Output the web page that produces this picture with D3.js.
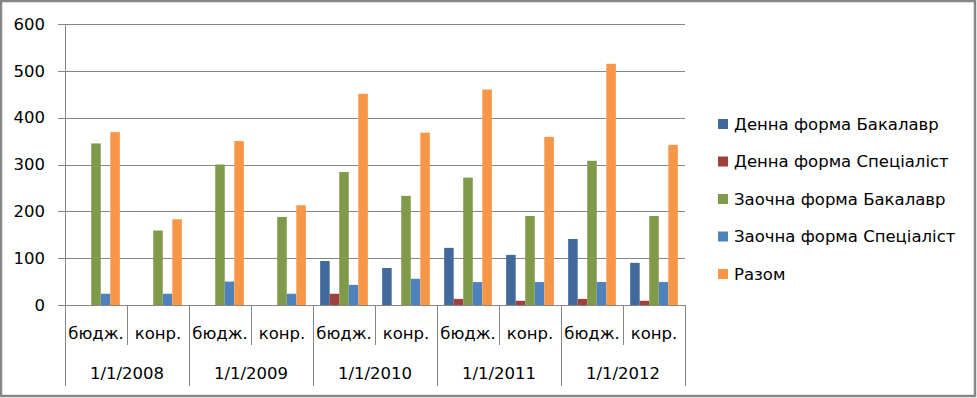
<!DOCTYPE html>
<html>
<head>
<meta charset="utf-8">
<script src="https://cdn.jsdelivr.net/npm/d3@7"></script>
<style>
  body { margin: 0; background: #fff; }
  svg text { font-family: "DejaVu Sans", sans-serif; fill: #000; }
</style>
</head>
<body>
<div id="chart"></div>
<script>
// data
var years = ["1/1/2008", "1/1/2009", "1/1/2010", "1/1/2011", "1/1/2012"];
var kinds = ["бюдж.", "конр."];
var seriesNames = ["Денна форма Бакалавр", "Денна форма Спеціаліст", "Заочна форма Бакалавр", "Заочна форма Спеціаліст", "Разом"];
var seriesColors = ["#41699c", "#a0403d", "#7f9b49", "#4f81bd", "#f79646"];
// one value per category (year x kind), in order
var denBak  = [0, 0, 0, 0, 94, 79, 122, 107, 141, 90];
var denSpec = [0, 0, 0, 0, 24, 0, 13, 9, 13, 9];
var zaoBak  = [345, 159, 300, 188, 284, 233, 272, 190, 308, 190];
var zaoSpec = [24, 24, 50, 24, 43, 56, 49, 49, 49, 49];
var razom   = [369, 183, 350, 213, 451, 368, 460, 359, 515, 342];
var yTicks = [0, 100, 200, 300, 400, 500, 600];

var series = [denBak, denSpec, zaoBak, zaoSpec, razom];

var W = 977, H = 398;
var margin = { top: 24, left: 65 },
    plotW = 620, plotH = 281;
var fontSize = "16.5px";

var svg = d3.select("#chart").append("svg")
    .attr("width", W)
    .attr("height", H);

// outer border
svg.append("rect")
    .attr("x", 1).attr("y", 1)
    .attr("width", W - 3).attr("height", H - 3)
    .attr("fill", "#fff")
    .attr("stroke", "#868686")
    .attr("stroke-width", 2.5);

var g = svg.append("g")
    .attr("transform", "translate(" + margin.left + "," + margin.top + ")");

// categories
var cats = [];
years.forEach(function (y) {
    kinds.forEach(function (k) { cats.push(y + "|" + k); });
});

var x = d3.scaleBand().domain(cats).range([0, plotW]).padding(0);
// gap width 150%: bar = band / 6.5, outer gap = 0.75 bar
var barW = x.bandwidth() / 6.5;
var xs = d3.scaleBand().domain(d3.range(series.length))
    .range([0.75 * barW, 5.75 * barW]).padding(0);

var y = d3.scaleLinear().domain([0, 600]).range([plotH, 0]);

// gridlines + y ticks
var yAxis = g.append("g")
    .call(d3.axisLeft(y).tickValues(yTicks).tickSize(-plotW).tickPadding(20));
yAxis.select(".domain").remove();
yAxis.selectAll(".tick line")
    .attr("x1", -7)
    .attr("stroke", "#868686")
    .attr("shape-rendering", "crispEdges");
yAxis.selectAll(".tick text")
    .attr("font-size", fontSize)
    .attr("font-family", "DejaVu Sans, sans-serif");

// vertical axis line
g.append("line")
    .attr("x1", 0).attr("x2", 0)
    .attr("y1", 0).attr("y2", plotH)
    .attr("stroke", "#868686")
    .attr("shape-rendering", "crispEdges");

// bars
series.forEach(function (vals, si) {
    g.append("g").selectAll("rect")
        .data(vals)
        .enter()
        .append("rect")
        .attr("x", function (d, i) { return x(cats[i]) + xs(si); })
        .attr("y", function (d) { return y(d); })
        .attr("width", xs.bandwidth())
        .attr("height", function (d) { return plotH - y(d); })
        .attr("fill", seriesColors[si]);
});

// category dividers
var boundaries = d3.range(cats.length + 1);
g.append("g").selectAll("line")
    .data(boundaries)
    .enter()
    .append("line")
    .attr("x1", function (i) { return i * x.step(); })
    .attr("x2", function (i) { return i * x.step(); })
    .attr("y1", plotH)
    .attr("y2", function (i) { return i % 2 === 0 ? plotH + 81 : plotH + 40; })
    .attr("stroke", "#868686")
    .attr("shape-rendering", "crispEdges");

// category labels
g.append("g").selectAll("text")
    .data(cats)
    .enter()
    .append("text")
    .attr("x", function (d) { return x(d) + x.bandwidth() / 2; })
    .attr("y", plotH + 28)
    .attr("dy", "0.35em")
    .attr("text-anchor", "middle")
    .attr("font-size", fontSize)
    .text(function (d) { return d.split("|")[1]; });

// year labels
g.append("g").selectAll("text")
    .data(years)
    .enter()
    .append("text")
    .attr("x", function (d) { return x(d + "|" + kinds[0]) + x.bandwidth(); })
    .attr("y", plotH + 68)
    .attr("dy", "0.35em")
    .attr("text-anchor", "middle")
    .attr("font-size", fontSize)
    .text(function (d) { return d; });

// legend
var legend = svg.append("g")
    .attr("transform", "translate(718,124)");
var item = legend.selectAll("g")
    .data(seriesNames)
    .enter()
    .append("g")
    .attr("transform", function (d, i) { return "translate(0," + (i * 37.5) + ")"; });
item.append("rect")
    .attr("x", 0).attr("y", -5)
    .attr("width", 10).attr("height", 10)
    .attr("fill", function (d, i) { return seriesColors[i]; });
item.append("text")
    .attr("x", 16)
    .attr("y", 0)
    .attr("dy", "0.35em")
    .attr("font-size", fontSize)
    .text(function (d) { return d; });
</script>
</body>
</html>
